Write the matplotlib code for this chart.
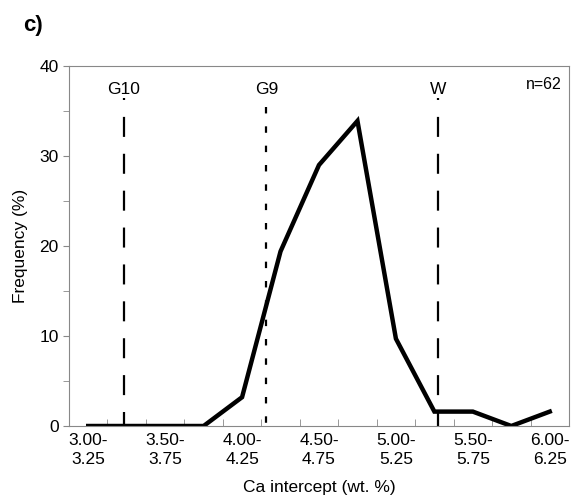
import numpy as np
import matplotlib
matplotlib.use("Agg")
import matplotlib.pyplot as plt
from matplotlib.ticker import MultipleLocator, FixedLocator

plt.rcParams['font.family'] = ['Liberation Sans', 'DejaVu Sans']

bins_lo = [3.00, 3.25, 3.50, 3.75, 4.00, 4.25, 4.50, 4.75, 5.00, 5.25, 5.50, 5.75, 6.00]
freq = [0, 0, 0, 0, 3.2, 19.4, 29.0, 33.9, 9.7, 1.6, 1.6, 0, 1.6]
# reference lines, in category positions
ref_names = ["G10", "G9", "W"]
ref_pos = [0.93, 4.63, 9.09]
ref_top = [36.5, 35.5, 36.5]
ref_styles = [(8.1, (9, 7.6)), (0, (2.9, 5.8)), (8.1, (9, 7.6))]

labels = ["%.2f-\n%.2f" % (b, b + 0.25) for b in bins_lo]
x = np.arange(len(bins_lo))

fig = plt.figure(figsize=(5.73, 4.99), dpi=100)
ax = fig.add_axes([0.1204, 0.1463, 0.8726, 0.7214])

ax.plot(x, freq, color="black", lw=3.2, solid_joinstyle="miter")
for name, p, top, ls in zip(ref_names, ref_pos, ref_top, ref_styles):
	ax.plot([p, p], [top, 0], color="black", lw=1.6, linestyle=ls)
	ax.text(p, 36.6, name, ha="center", va="bottom", fontsize=12.5)
ax.text(12.3, 37.1, "n=62", ha="right", va="bottom", fontsize=11.5)

ax.set_xlim(-0.5, 12.5)
ax.set_ylim(0, 40)
ax.xaxis.set_major_locator(FixedLocator(x[::2]))
ax.set_xticklabels(labels[::2], fontsize=12.5, linespacing=1.3)
ax.xaxis.set_minor_locator(FixedLocator(np.arange(-0.5, 12.6, 1)))
ax.tick_params(axis="x", which="major", length=0, pad=5)
ax.tick_params(axis="x", which="minor", direction="in", length=5, color="#888888")
ax.yaxis.set_major_locator(MultipleLocator(10))
ax.yaxis.set_minor_locator(MultipleLocator(5))
ax.tick_params(axis="y", which="both", length=4, color="#888888", labelsize=12.5)

for s in ax.spines.values():
	s.set_color("#888888")

ax.set_xlabel("Ca intercept (wt. %)", fontsize=12.5, labelpad=10)
ax.set_ylabel("Frequency (%)", fontsize=12.5, labelpad=8)
fig.text(0.04, 0.948, "c)", fontsize=16, fontweight="bold", va="center")

fig.savefig("out.png", dpi=100)
